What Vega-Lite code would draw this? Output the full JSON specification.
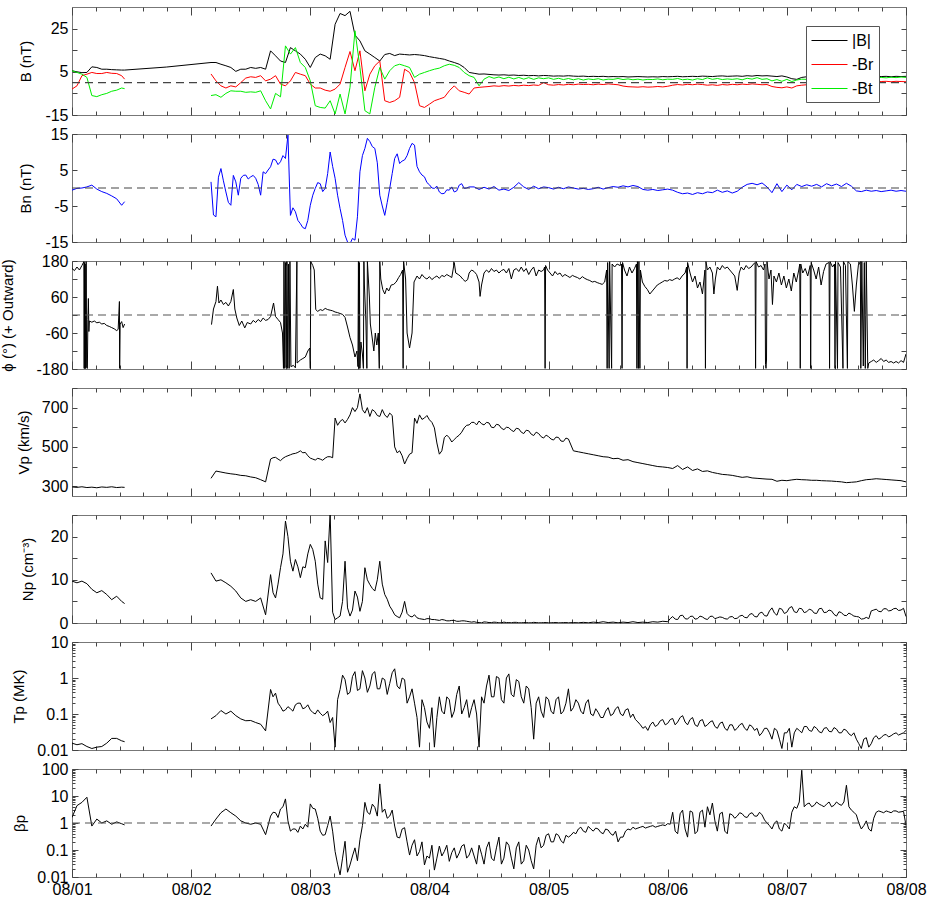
{
"$schema":"https://vega.github.io/schema/vega-lite/v6.json",
"background":"white",
"padding":{"left":0,"top":6,"right":4,"bottom":0},
"spacing":19,
"bounds":"flush",
"resolve":{"scale":{"color":"independent"},"legend":{"color":"independent"}},
"datasets":{
"main":[
{"h":0,"|B|":5.5,"-Br":-3,"-Bt":5.5,"Bn":-0.6,"V":296,"N":9.7,"T":0.0155,"b":1.6},
{"h":1,"|B|":5.0,"-Br":-1.5,"-Bt":4.7,"Bn":-0.1,"V":294,"N":9.3,"T":0.014,"b":4.4},
{"h":2,"|B|":4.6,"-Br":3.2,"-Bt":3.9,"Bn":0,"V":297,"N":9.7,"T":0.015,"b":5.8},
{"h":3,"|B|":4.7,"-Br":3.9,"-Bt":2.4,"Bn":0.3,"V":293,"N":9.1,"T":0.0125,"b":9},
{"h":4,"|B|":7.3,"-Br":4.7,"-Bt":-6,"Bn":0.8,"V":295,"N":7.8,"T":0.011,"b":0.77},
{"h":5,"|B|":7.0,"-Br":4.2,"-Bt":-6.5,"Bn":-0.3,"V":292,"N":7.0,"T":0.012,"b":1.4},
{"h":6,"|B|":6.2,"-Br":4.2,"-Bt":-5.6,"Bn":-1.0,"V":296,"N":7.5,"T":0.0125,"b":1.0},
{"h":7,"|B|":6.2,"-Br":4.7,"-Bt":-5.0,"Bn":-1.5,"V":294,"N":6.6,"T":0.0155,"b":1.2},
{"h":8,"|B|":6.0,"-Br":4.3,"-Bt":-4.0,"Bn":-2.2,"V":297,"N":5.4,"T":0.021,"b":0.9},
{"h":9,"|B|":5.9,"-Br":4.2,"-Bt":-3.5,"Bn":-3.0,"V":293,"N":6.2,"T":0.021,"b":1.1},
{"h":10,"|B|":5.8,"-Br":3.2,"-Bt":-2.5,"Bn":-4.8,"V":295,"N":5.0,"T":0.018,"b":0.94},
{"h":10.6,"|B|":5.8,"-Br":1.6,"-Bt":-2.8,"Bn":-3.8,"V":294,"N":4.5,"T":0.017,"b":0.85},
{"h":19,"|B|":7.2,"-Br":null,"-Bt":null,"Bn":null,"V":null,"N":null,"T":null,"b":null},
{"h":28,"|B|":9.3,"-Br":4,"-Bt":-6,"Bn":1.7,"V":340,"N":11.6,"T":0.073,"b":0.77},
{"h":29,"|B|":9.3,"-Br":0.8,"-Bt":-5.6,"Bn":-8,"V":377,"N":9.7,"T":0.09,"b":1.4},
{"h":30,"|B|":8.5,"-Br":-1.5,"-Bt":-6.8,"Bn":5.4,"V":372,"N":10,"T":0.125,"b":2.4},
{"h":31,"|B|":7.8,"-Br":-2.5,"-Bt":-5,"Bn":-1.1,"V":367,"N":9.3,"T":0.1,"b":3.3},
{"h":32,"|B|":7.0,"-Br":-1.5,"-Bt":-3.8,"Bn":-4.8,"V":363,"N":8.5,"T":0.12,"b":2.4},
{"h":33,"|B|":5.2,"-Br":-2,"-Bt":-4,"Bn":1.7,"V":360,"N":7.4,"T":0.09,"b":1.8},
{"h":34,"|B|":6.2,"-Br":0,"-Bt":-4,"Bn":2.7,"V":355,"N":5.8,"T":0.073,"b":1.2},
{"h":35,"|B|":6.2,"-Br":2.1,"-Bt":-4.5,"Bn":3.6,"V":353,"N":5.0,"T":0.065,"b":1.0},
{"h":36,"|B|":7.0,"-Br":2.7,"-Bt":-4.3,"Bn":3.1,"V":347,"N":5.4,"T":0.066,"b":0.9},
{"h":37,"|B|":6.6,"-Br":2.4,"-Bt":-4.5,"Bn":2.7,"V":343,"N":5.0,"T":0.058,"b":1.0},
{"h":38,"|B|":7.0,"-Br":3.2,"-Bt":-3.8,"Bn":-2,"V":333,"N":5.8,"T":0.052,"b":0.9},
{"h":39,"|B|":6.2,"-Br":0.8,"-Bt":-8.4,"Bn":4,"V":322,"N":1.9,"T":0.034,"b":0.37},
{"h":40,"|B|":14.7,"-Br":1.6,"-Bt":-12.2,"Bn":5.9,"V":438,"N":11.2,"T":0.48,"b":1.8},
{"h":41,"|B|":12.4,"-Br":3.2,"-Bt":-5,"Bn":7.8,"V":447,"N":5.8,"T":0.38,"b":2.4},
{"h":42,"|B|":10,"-Br":-0.7,"-Bt":-6.6,"Bn":7.3,"V":430,"N":12.8,"T":0.16,"b":3.3},
{"h":43,"|B|":9.3,"-Br":-1.5,"-Bt":17,"Bn":8.2,"V":450,"N":23.6,"T":0.13,"b":7.8},
{"h":44,"|B|":16.2,"-Br":0.8,"-Bt":13.2,"Bn":-7.6,"V":460,"N":14.3,"T":0.14,"b":0.5},
{"h":45,"|B|":14.7,"-Br":4.7,"-Bt":16.2,"Bn":-6.6,"V":467,"N":14.7,"T":0.18,"b":0.6},
{"h":46,"|B|":13.2,"-Br":3.9,"-Bt":9.3,"Bn":-9.9,"V":480,"N":10.5,"T":0.2,"b":0.77},
{"h":47,"|B|":10.8,"-Br":3.2,"-Bt":7,"Bn":-11.3,"V":472,"N":12.8,"T":0.15,"b":0.9},
{"h":48,"|B|":7,"-Br":-0.7,"-Bt":0.8,"Bn":-4.8,"V":443,"N":18.2,"T":0.13,"b":5.1},
{"h":49,"|B|":11.6,"-Br":-2.5,"-Bt":-10.7,"Bn":-0.1,"V":433,"N":14.3,"T":0.1,"b":3.3},
{"h":50,"|B|":13.2,"-Br":-2.5,"-Bt":-11.5,"Bn":1.2,"V":438,"N":5.8,"T":0.105,"b":0.5},
{"h":51,"|B|":12.4,"-Br":-3.5,"-Bt":-11.8,"Bn":-0.1,"V":443,"N":19,"T":0.1,"b":0.37},
{"h":52,"|B|":10.8,"-Br":-4,"-Bt":-8.4,"Bn":10,"V":450,"N":25.5,"T":0.058,"b":1.8},
{"h":53,"|B|":27,"-Br":-3,"-Bt":-14.5,"Bn":2.7,"V":647,"N":0.8,"T":0.012,"b":0.088},
{"h":54,"|B|":32,"-Br":-0.7,"-Bt":-5.3,"Bn":-5.7,"V":630,"N":1.6,"T":0.48,"b":0.012},
{"h":55,"|B|":31,"-Br":7,"-Bt":-14.5,"Bn":-13.1,"V":622,"N":14.3,"T":0.9,"b":0.21},
{"h":56,"|B|":33,"-Br":14.4,"-Bt":-2.2,"Bn":-15.5,"V":663,"N":1.6,"T":0.4,"b":0.028},
{"h":57,"|B|":22,"-Br":5.5,"-Bt":24,"Bn":-14.5,"V":680,"N":7.4,"T":1.5,"b":0.12},
{"h":58,"|B|":19.3,"-Br":14.7,"-Bt":7,"Bn":4.5,"V":770,"N":2.7,"T":0.5,"b":0.24},
{"h":59,"|B|":14.7,"-Br":-3.8,"-Bt":-13,"Bn":11,"V":672,"N":12.8,"T":1.0,"b":5.8},
{"h":60,"|B|":13.2,"-Br":3.9,"-Bt":-14.5,"Bn":12.9,"V":655,"N":8.9,"T":0.6,"b":2.1},
{"h":61,"|B|":11.6,"-Br":7.8,"-Bt":-2.2,"Bn":11,"V":680,"N":7.4,"T":1.5,"b":3.8},
{"h":62,"|B|":10,"-Br":10,"-Bt":7,"Bn":-2,"V":655,"N":14.3,"T":0.5,"b":28},
{"h":63,"|B|":13,"-Br":-8.4,"-Bt":1.6,"Bn":-7.6,"V":663,"N":6.6,"T":0.9,"b":3.3},
{"h":64,"|B|":13.5,"-Br":-9.2,"-Bt":5.5,"Bn":-0.1,"V":672,"N":3.9,"T":0.7,"b":1.8},
{"h":65,"|B|":12.5,"-Br":-8.4,"-Bt":7.8,"Bn":8.2,"V":500,"N":1.9,"T":1.8,"b":0.77},
{"h":66,"|B|":13.2,"-Br":-6.8,"-Bt":8.5,"Bn":6.8,"V":480,"N":1.2,"T":0.5,"b":0.28},
{"h":67,"|B|":13,"-Br":6.2,"-Bt":7.8,"Bn":7.8,"V":413,"N":5,"T":0.9,"b":0.67},
{"h":68,"|B|":12.8,"-Br":4.7,"-Bt":7,"Bn":11,"V":463,"N":1.6,"T":0.3,"b":0.065},
{"h":69,"|B|":13,"-Br":0,"-Bt":2.4,"Bn":11.9,"V":647,"N":1.9,"T":0.2,"b":0.24},
{"h":70,"|B|":12.8,"-Br":-10.7,"-Bt":3.9,"Bn":4.5,"V":663,"N":1.0,"T":0.012,"b":0.088},
{"h":71,"|B|":12.5,"-Br":-11.5,"-Bt":4.7,"Bn":3.1,"V":647,"N":0.8,"T":0.15,"b":0.028},
{"h":72,"|B|":12,"-Br":-10,"-Bt":5.5,"Bn":0.9,"V":638,"N":1.0,"T":0.04,"b":0.05},
{"h":73,"|B|":11.6,"-Br":-8.4,"-Bt":6.2,"Bn":-0.1,"V":597,"N":0.8,"T":0.012,"b":0.018},
{"h":74,"|B|":11.2,"-Br":-7.6,"-Bt":6.7,"Bn":-1.1,"V":463,"N":0.6,"T":0.3,"b":0.14},
{"h":75,"|B|":10.8,"-Br":-6.8,"-Bt":7.8,"Bn":-1.5,"V":547,"N":0.7,"T":0.1,"b":0.088},
{"h":76,"|B|":10,"-Br":-3.8,"-Bt":8.5,"Bn":-0.6,"V":547,"N":0.5,"T":0.25,"b":0.038},
{"h":77,"|B|":9.3,"-Br":-1.5,"-Bt":8,"Bn":-1.1,"V":538,"N":0.6,"T":0.12,"b":0.12},
{"h":78,"|B|":8.5,"-Br":-3.8,"-Bt":7,"Bn":0.8,"V":560,"N":0.4,"T":0.6,"b":0.077},
{"h":79,"|B|":7,"-Br":-4.5,"-Bt":4.7,"Bn":-0.1,"V":597,"N":0.5,"T":0.15,"b":0.16},
{"h":80,"|B|":4.7,"-Br":-5.3,"-Bt":3.2,"Bn":0.3,"V":612,"N":0.3,"T":0.08,"b":0.065},
{"h":81,"|B|":4.3,"-Br":-2.5,"-Bt":2.4,"Bn":0.3,"V":625,"N":0.3,"T":0.25,"b":0.06},
{"h":82,"|B|":3.9,"-Br":-2.2,"-Bt":-1.5,"Bn":-0.4,"V":632,"N":0.1,"T":0.012,"b":0.15},
{"h":83,"|B|":4.0,"-Br":-2.0,"-Bt":1.6,"Bn":0.2,"V":612,"N":0.25,"T":0.2,"b":0.03},
{"h":84,"|B|":3.8,"-Br":-1.8,"-Bt":2.8,"Bn":-0.3,"V":622,"N":0.1,"T":1.2,"b":0.2},
{"h":85,"|B|":3.6,"-Br":-1.5,"-Bt":2.0,"Bn":0.4,"V":598,"N":0.2,"T":0.3,"b":0.04},
{"h":86,"|B|":3.5,"-Br":-1.7,"-Bt":2.6,"Bn":-0.6,"V":612,"N":0.05,"T":1.0,"b":0.3},
{"h":87,"|B|":3.6,"-Br":-1.4,"-Bt":1.8,"Bn":-0.3,"V":588,"N":0.2,"T":0.2,"b":0.05},
{"h":88,"|B|":3.4,"-Br":-1.6,"-Bt":2.5,"Bn":-0.7,"V":598,"N":0.1,"T":1.3,"b":0.15},
{"h":89,"|B|":3.5,"-Br":-1.3,"-Bt":1.7,"Bn":0.2,"V":578,"N":0.15,"T":0.3,"b":0.02},
{"h":90,"|B|":3.3,"-Br":-1.5,"-Bt":2.4,"Bn":1.5,"V":592,"N":0.05,"T":0.8,"b":0.2},
{"h":91,"|B|":3.4,"-Br":-1.2,"-Bt":1.6,"Bn":0.3,"V":568,"N":0.1,"T":0.2,"b":0.04},
{"h":92,"|B|":3.2,"-Br":-1.4,"-Bt":2.3,"Bn":-0.4,"V":582,"N":0.05,"T":0.5,"b":0.1},
{"h":93,"|B|":3.3,"-Br":-1.1,"-Bt":1.5,"Bn":0.5,"V":558,"N":0.15,"T":0.02,"b":0.02},
{"h":94,"|B|":3.1,"-Br":-1.3,"-Bt":2.2,"Bn":-0.2,"V":568,"N":0.05,"T":0.3,"b":0.3},
{"h":95,"|B|":3.3,"-Br":0,"-Bt":1.8,"Bn":0.3,"V":545,"N":0.1,"T":0.08,"b":0.15},
{"h":96,"|B|":3.2,"-Br":-1.0,"-Bt":2.2,"Bn":0.1,"V":552,"N":0.05,"T":0.25,"b":0.4},
{"h":97,"|B|":3.0,"-Br":-1.2,"-Bt":1.5,"Bn":-0.3,"V":535,"N":0.1,"T":0.1,"b":0.2},
{"h":98,"|B|":3.1,"-Br":-0.9,"-Bt":2.0,"Bn":0.2,"V":548,"N":0.05,"T":0.3,"b":0.35},
{"h":99,"|B|":3.0,"-Br":-1.1,"-Bt":1.4,"Bn":-0.2,"V":528,"N":0.1,"T":0.12,"b":0.18},
{"h":100,"|B|":3.2,"-Br":-0.8,"-Bt":1.9,"Bn":0.3,"V":540,"N":0.05,"T":0.5,"b":0.3},
{"h":101,"|B|":3.0,"-Br":-1.0,"-Bt":1.3,"Bn":0,"V":480,"N":0.1,"T":0.15,"b":0.45},
{"h":102,"|B|":2.9,"-Br":-0.7,"-Bt":1.8,"Bn":-0.3,"V":475,"N":0.05,"T":0.2,"b":0.6},
{"h":103,"|B|":3.0,"-Br":-0.9,"-Bt":1.2,"Bn":-0.1,"V":470,"N":0.15,"T":0.1,"b":0.5},
{"h":104,"|B|":2.8,"-Br":-0.8,"-Bt":1.7,"Bn":-0.4,"V":465,"N":0.05,"T":0.25,"b":0.75},
{"h":105,"|B|":2.9,"-Br":-1.0,"-Bt":1.4,"Bn":-0.2,"V":460,"N":0.2,"T":0.09,"b":0.5},
{"h":106,"|B|":2.8,"-Br":-0.7,"-Bt":1.8,"Bn":0.2,"V":455,"N":0.1,"T":0.11,"b":0.6},
{"h":107,"|B|":2.9,"-Br":-0.9,"-Bt":1.2,"Bn":-0.3,"V":450,"N":0.3,"T":0.08,"b":0.4},
{"h":108,"|B|":2.7,"-Br":-0.6,"-Bt":1.6,"Bn":0.1,"V":448,"N":0.1,"T":0.15,"b":0.55},
{"h":109,"|B|":2.8,"-Br":-0.8,"-Bt":1.5,"Bn":0.4,"V":440,"N":0.2,"T":0.1,"b":0.35},
{"h":110,"|B|":2.7,"-Br":-1.0,"-Bt":1.9,"Bn":0.2,"V":442,"N":0.05,"T":0.16,"b":0.2},
{"h":111,"|B|":2.8,"-Br":-1.6,"-Bt":1.4,"Bn":0.6,"V":432,"N":0.2,"T":0.09,"b":0.3},
{"h":112,"|B|":2.6,"-Br":-1.9,"-Bt":1.7,"Bn":0.3,"V":435,"N":0.1,"T":0.14,"b":0.6},
{"h":113,"|B|":2.7,"-Br":-2.0,"-Bt":1.3,"Bn":0.7,"V":425,"N":0.3,"T":0.1,"b":0.7},
{"h":114,"|B|":2.8,"-Br":-2.1,"-Bt":1.6,"Bn":0.4,"V":420,"N":0.1,"T":0.06,"b":0.65},
{"h":115,"|B|":2.7,"-Br":-1.9,"-Bt":1.2,"Bn":-0.4,"V":415,"N":0.2,"T":0.04,"b":0.75},
{"h":116,"|B|":2.6,"-Br":-2.1,"-Bt":1.5,"Bn":-0.6,"V":410,"N":0.1,"T":0.035,"b":0.7},
{"h":117,"|B|":2.7,"-Br":-2.0,"-Bt":1.4,"Bn":-0.4,"V":405,"N":0.3,"T":0.06,"b":0.8},
{"h":118,"|B|":2.6,"-Br":-1.8,"-Bt":1.7,"Bn":-0.7,"V":400,"N":0.2,"T":0.05,"b":0.75},
{"h":119,"|B|":2.8,"-Br":-2.0,"-Bt":1.3,"Bn":-0.5,"V":398,"N":0.4,"T":0.07,"b":0.85},
{"h":120,"|B|":2.7,"-Br":-1.7,"-Bt":1.6,"Bn":-0.3,"V":395,"N":0.3,"T":0.055,"b":0.95},
{"h":121,"|B|":2.8,"-Br":-1.2,"-Bt":1.5,"Bn":-0.6,"V":390,"N":1.5,"T":0.075,"b":2.5},
{"h":122,"|B|":2.9,"-Br":-0.9,"-Bt":1.9,"Bn":-1.2,"V":405,"N":0.8,"T":0.06,"b":0.4},
{"h":123,"|B|":2.7,"-Br":-1.1,"-Bt":1.3,"Bn":-1.6,"V":385,"N":1.8,"T":0.09,"b":3},
{"h":124,"|B|":2.8,"-Br":-0.8,"-Bt":1.6,"Bn":-1.4,"V":398,"N":0.9,"T":0.05,"b":0.3},
{"h":125,"|B|":2.9,"-Br":-1.0,"-Bt":1.2,"Bn":-1.8,"V":380,"N":1.6,"T":0.08,"b":2.5},
{"h":126,"|B|":2.8,"-Br":-0.7,"-Bt":1.8,"Bn":-1.3,"V":388,"N":1.0,"T":0.045,"b":0.5},
{"h":127,"|B|":3.0,"-Br":-0.9,"-Bt":1.4,"Bn":-1.6,"V":375,"N":1.4,"T":0.07,"b":3},
{"h":128,"|B|":2.9,"-Br":-1.2,"-Bt":2.2,"Bn":-1.1,"V":378,"N":0.8,"T":0.05,"b":4},
{"h":129,"|B|":2.8,"-Br":-1.0,"-Bt":1.5,"Bn":-1.3,"V":370,"N":1.6,"T":0.065,"b":5.5},
{"h":130,"|B|":3.0,"-Br":-1.3,"-Bt":1.9,"Bn":-0.6,"V":365,"N":1.2,"T":0.04,"b":0.5},
{"h":131,"|B|":3.1,"-Br":-0.9,"-Bt":1.4,"Bn":-1.2,"V":360,"N":1.3,"T":0.06,"b":2.5},
{"h":132,"|B|":2.9,"-Br":-1.1,"-Bt":1.7,"Bn":-0.8,"V":358,"N":0.9,"T":0.035,"b":0.4},
{"h":133,"|B|":3.0,"-Br":-0.8,"-Bt":1.5,"Bn":-1.4,"V":355,"N":1.5,"T":0.05,"b":2},
{"h":134,"|B|":3.1,"-Br":-1.0,"-Bt":1.8,"Bn":-0.9,"V":350,"N":1.1,"T":0.04,"b":1.8},
{"h":135,"|B|":2.9,"-Br":-0.7,"-Bt":1.3,"Bn":0.2,"V":345,"N":1.8,"T":0.055,"b":2.2},
{"h":136,"|B|":3.2,"-Br":-0.9,"-Bt":2.0,"Bn":1.0,"V":348,"N":1.2,"T":0.035,"b":1.6},
{"h":137,"|B|":3.0,"-Br":-0.6,"-Bt":1.6,"Bn":1.3,"V":342,"N":2.2,"T":0.045,"b":2.4},
{"h":138,"|B|":3.3,"-Br":-0.8,"-Bt":2.3,"Bn":0.9,"V":340,"N":1.4,"T":0.04,"b":1.8},
{"h":139,"|B|":3.1,"-Br":-1.0,"-Bt":1.5,"Bn":1.4,"V":338,"N":2.5,"T":0.03,"b":2},
{"h":140,"|B|":3.2,"-Br":-0.9,"-Bt":1.8,"Bn":0.3,"V":336,"N":1.6,"T":0.04,"b":1},
{"h":141,"|B|":3.0,"-Br":-1.8,"-Bt":0.8,"Bn":-1.3,"V":335,"N":3.5,"T":0.02,"b":0.6},
{"h":142,"|B|":2.8,"-Br":-2.2,"-Bt":1.4,"Bn":1.2,"V":325,"N":1.8,"T":0.035,"b":1.2},
{"h":143,"|B|":3.1,"-Br":-2.4,"-Bt":0.6,"Bn":-1.0,"V":330,"N":3.2,"T":0.011,"b":0.5},
{"h":144,"|B|":2.6,"-Br":-2.0,"-Bt":1.5,"Bn":0.8,"V":328,"N":2.5,"T":0.03,"b":0.8},
{"h":145,"|B|":1.8,"-Br":-2.5,"-Bt":0.5,"Bn":-0.5,"V":332,"N":3.8,"T":0.012,"b":2.5},
{"h":146,"|B|":1.5,"-Br":-1.5,"-Bt":1.2,"Bn":1.0,"V":335,"N":2.4,"T":0.04,"b":3.5},
{"h":147,"|B|":2.4,"-Br":-1.2,"-Bt":1.6,"Bn":0.4,"V":333,"N":3.3,"T":0.03,"b":90},
{"h":148,"|B|":2.7,"-Br":-1.0,"-Bt":1.5,"Bn":0.9,"V":332,"N":2.6,"T":0.045,"b":5},
{"h":149,"|B|":2.8,"-Br":-0.8,"-Bt":1.7,"Bn":0.5,"V":330,"N":3.0,"T":0.033,"b":4},
{"h":150,"|B|":2.7,"-Br":-1.0,"-Bt":1.4,"Bn":1.0,"V":330,"N":2.2,"T":0.04,"b":6},
{"h":151,"|B|":2.8,"-Br":-0.7,"-Bt":1.6,"Bn":0.3,"V":328,"N":3.4,"T":0.03,"b":4.5},
{"h":152,"|B|":2.6,"-Br":-0.9,"-Bt":1.5,"Bn":1.2,"V":327,"N":2.5,"T":0.042,"b":5},
{"h":153,"|B|":2.7,"-Br":-0.8,"-Bt":1.7,"Bn":0.6,"V":326,"N":2.8,"T":0.032,"b":4},
{"h":154,"|B|":2.8,"-Br":-1.0,"-Bt":1.4,"Bn":1.1,"V":324,"N":1.6,"T":0.038,"b":6},
{"h":155,"|B|":2.7,"-Br":-0.7,"-Bt":1.6,"Bn":0.4,"V":322,"N":2.4,"T":0.03,"b":4.5},
{"h":156,"|B|":2.6,"-Br":-0.9,"-Bt":1.5,"Bn":1.3,"V":318,"N":1.7,"T":0.035,"b":25},
{"h":157,"|B|":2.7,"-Br":-0.8,"-Bt":1.7,"Bn":0.5,"V":320,"N":2.0,"T":0.025,"b":3},
{"h":158,"|B|":2.8,"-Br":-1.0,"-Bt":1.4,"Bn":-0.8,"V":322,"N":1.5,"T":0.02,"b":2},
{"h":159,"|B|":2.7,"-Br":-0.6,"-Bt":1.6,"Bn":-1.0,"V":328,"N":0.9,"T":0.011,"b":0.6},
{"h":160,"|B|":2.8,"-Br":-0.4,"-Bt":1.8,"Bn":-0.6,"V":333,"N":1.3,"T":0.022,"b":1.2},
{"h":161,"|B|":2.7,"-Br":0,"-Bt":2.0,"Bn":-0.9,"V":335,"N":2.8,"T":0.015,"b":0.5},
{"h":162,"|B|":2.8,"-Br":0.3,"-Bt":2.2,"Bn":-0.7,"V":338,"N":3.2,"T":0.025,"b":2.5},
{"h":163,"|B|":2.8,"-Br":0.5,"-Bt":2.4,"Bn":-1.0,"V":336,"N":2.6,"T":0.022,"b":2.6},
{"h":164,"|B|":2.9,"-Br":0.6,"-Bt":2.2,"Bn":-0.8,"V":334,"N":3.3,"T":0.027,"b":2.8},
{"h":165,"|B|":2.7,"-Br":0.4,"-Bt":2.5,"Bn":-0.6,"V":332,"N":2.9,"T":0.025,"b":2.4},
{"h":166,"|B|":2.9,"-Br":0.6,"-Bt":2.3,"Bn":-0.9,"V":330,"N":3.4,"T":0.03,"b":2.8},
{"h":167,"|B|":2.8,"-Br":0.5,"-Bt":2.6,"Bn":-0.7,"V":328,"N":3.0,"T":0.028,"b":2.6},
{"h":168,"|B|":2.9,"-Br":0.4,"-Bt":2.4,"Bn":-0.9,"V":322,"N":1.5,"T":0.035,"b":0.8},
{"h":28.5,"Bn":-7.5},{"h":29.5,"Bn":3},{"h":30.5,"Bn":2},{"h":31.5,"Bn":-4},{"h":32.5,"Bn":3.5},{"h":33.5,"Bn":-2},{"h":34.5,"Bn":3.5},{"h":35.5,"Bn":2.5},{"h":36.5,"Bn":3.5},{"h":37.5,"Bn":1},{"h":38.5,"Bn":4.5},{"h":39.5,"Bn":5},
{"h":40.5,"Bn":8,"V":445,"N":7,"T":0.3,"b":2.5},
{"h":41.5,"Bn":6.5,"V":438,"N":9,"T":0.2,"b":1.6},
{"h":42.5,"Bn":9,"V":442,"N":16,"T":0.12,"b":4},
{"h":43.5,"Bn":14.7,"V":455,"N":20,"T":0.16,"b":1.2},
{"h":44.5,"Bn":-5.5,"V":465,"N":12,"T":0.12,"b":0.6},
{"h":45.5,"Bn":-9,"V":472,"N":13,"T":0.2,"b":0.45},
{"h":46.5,"Bn":-11,"V":470,"N":13,"T":0.14,"b":0.6},
{"h":47.5,"Bn":-9,"V":455,"N":16,"T":0.18,"b":0.7},
{"h":48.5,"Bn":-2,"V":438,"N":17,"T":0.11,"b":3.5},
{"h":49.5,"Bn":1.5,"V":442,"N":9,"T":0.13,"b":1.5},
{"h":50.5,"Bn":-1,"V":432,"N":5.5,"T":0.09,"b":0.35},
{"h":51.5,"Bn":4,"V":450,"N":14,"T":0.12,"b":0.8},
{"h":52.5,"Bn":6,"V":445,"N":2.5,"T":0.08,"b":0.5},
{"h":53.5,"Bn":-2,"V":610,"N":1.2,"T":0.25,"b":0.03},
{"h":54.5,"Bn":-9,"V":640,"N":5,"T":1.2,"b":0.05},
{"h":55.5,"Bn":-15,"V":640,"N":3.5,"T":0.35,"b":0.015},
{"h":56.5,"Bn":-14,"V":700,"N":3,"T":1.1,"b":0.06},
{"h":57.5,"Bn":-8,"V":700,"N":6,"T":0.45,"b":0.04},
{"h":58.5,"Bn":9,"V":690,"N":5,"T":1.6,"b":0.8},
{"h":59.5,"Bn":13.8,"V":700,"N":10,"T":0.4,"b":2.5},
{"h":60.5,"Bn":11.5,"V":690,"N":8,"T":1.3,"b":5},
{"h":61.5,"Bn":7,"V":660,"N":10,"T":0.5,"b":1.8},
{"h":62.5,"Bn":-5,"V":690,"N":9,"T":1.0,"b":2.5},
{"h":63.5,"Bn":-4,"V":650,"N":5.5,"T":0.35,"b":1.5},
{"h":64.5,"Bn":4,"V":660,"N":3,"T":1.4,"b":3},
{"h":65.5,"Bn":9.5,"V":470,"N":1.5,"T":0.6,"b":0.3},
{"h":66.5,"Bn":7.5,"V":455,"N":2.5,"T":1.0,"b":0.6},
{"h":67.5,"Bn":9,"V":440,"N":2.2,"T":0.2,"b":0.2},
{"h":68.5,"Bn":12.4,"V":470,"N":1.4,"T":0.5,"b":0.15},
{"h":69.5,"Bn":6,"V":620,"N":1.2,"T":0.08,"b":0.06},
{"h":70.5,"Bn":3.6,"V":640,"N":0.9,"T":0.25,"b":0.2},
{"h":71.5,"Bn":1.5,"V":660,"N":1.0,"T":0.06,"b":0.06},
{"h":72.5,"Bn":0,"V":625,"N":0.8,"T":0.15,"b":0.15},
{"h":73.5,"Bn":0.5,"V":520,"N":0.7,"T":0.08,"b":0.05},
{"h":74.5,"Bn":-1.6,"V":480,"N":0.8,"T":0.12,"b":0.06},
{"h":75.5,"Bn":-0.5,"V":560,"N":0.5,"T":0.3,"b":0.15},
{"h":76.5,"Bn":0.3,"V":525,"N":0.6,"T":0.08,"b":0.08},
{"h":77.5,"Bn":-0.8,"V":550,"N":0.4,"T":0.35,"b":0.05},
{"h":78.5,"Bn":1.2,"V":575,"N":0.5,"T":0.1,"b":0.14},
{"h":79.5,"Bn":0,"V":610,"N":0.4,"T":0.25,"b":0.05},
{"h":80.5,"V":625,"N":0.2,"T":0.15,"b":0.12},
{"h":81.5,"V":612,"N":0.15,"T":0.1,"b":0.03},
{"h":82.5,"V":618,"N":0.05,"T":0.3,"b":0.07},
{"h":83.5,"V":625,"N":0.2,"T":0.6,"b":0.12},
{"h":84.5,"V":600,"N":0.1,"T":0.3,"b":0.05},
{"h":85.5,"V":615,"N":0.15,"T":1.1,"b":0.12},
{"h":86.5,"V":595,"N":0.05,"T":0.25,"b":0.03},
{"h":87.5,"V":600,"N":0.1,"T":1.0,"b":0.2},
{"h":88.5,"V":585,"N":0.05,"T":0.35,"b":0.05},
{"h":89.5,"V":595,"N":0.15,"T":0.9,"b":0.12},
{"h":90.5,"V":575,"N":0.05,"T":0.3,"b":0.03},
{"h":91.5,"V":585,"N":0.1,"T":0.6,"b":0.15},
{"h":92.5,"V":565,"N":0.05,"T":0.15,"b":0.04},
{"h":93.5,"V":575,"N":0.1,"T":0.2,"b":0.15},
{"h":94.5,"V":552,"N":0.05,"T":0.12,"b":0.12},
{"h":95.5,"V":560,"N":0.1,"T":0.3,"b":0.35},
{"h":96.5,"V":540,"N":0.05,"T":0.12,"b":0.2},
{"h":97.5,"V":550,"N":0.1,"T":0.25,"b":0.4},
{"h":98.5,"V":530,"N":0.05,"T":0.1,"b":0.22},
{"h":99.5,"V":545,"N":0.1,"T":0.2,"b":0.35},
{"h":100.5,"T":0.12,"b":0.35},{"h":101.5,"T":0.25,"b":0.4},{"h":102.5,"T":0.12,"b":0.7},{"h":103.5,"T":0.2,"b":0.45},{"h":104.5,"T":0.1,"b":0.6},{"h":105.5,"T":0.14,"b":0.65},{"h":106.5,"T":0.08,"b":0.45},{"h":107.5,"T":0.12,"b":0.6},{"h":108.5,"T":0.09,"b":0.4},{"h":109.5,"T":0.14,"b":0.5},{"h":110.5,"T":0.1,"b":0.3},{"h":111.5,"T":0.13,"b":0.5},{"h":112.5,"T":0.08,"b":0.55},{"h":113.5,"T":0.07,"b":0.6},{"h":114.5,"T":0.05,"b":0.7},{"h":115.5,"T":0.045,"b":0.65},{"h":116.5,"T":0.05,"b":0.75},{"h":117.5,"T":0.045,"b":0.7},{"h":118.5,"T":0.065,"b":0.8},{"h":119.5,"T":0.05,"b":0.8},
{"h":120.5,"N":1.0,"T":0.07,"b":0.9},{"h":121.5,"N":0.9,"T":0.05,"b":0.5},{"h":122.5,"N":1.7,"T":0.08,"b":2.2},{"h":123.5,"N":1.0,"T":0.06,"b":0.6},{"h":124.5,"N":1.5,"T":0.07,"b":2.8},{"h":125.5,"N":0.9,"T":0.05,"b":0.4},{"h":126.5,"N":1.6,"T":0.065,"b":2.5},{"h":127.5,"N":1.0,"T":0.045,"b":0.7},{"h":128.5,"N":1.5,"T":0.06,"b":2},{"h":129.5,"N":1.0,"T":0.045,"b":1.2},{"h":130.5,"N":1.4,"T":0.055,"b":2.2},{"h":131.5,"N":1.0,"T":0.04,"b":0.5},{"h":132.5,"N":1.4,"T":0.05,"b":2.2},{"h":133.5,"N":1.0,"T":0.035,"b":1.5},{"h":134.5,"N":1.6,"T":0.05,"b":2.4},{"h":135.5,"N":1.3,"T":0.04,"b":1.7},{"h":136.5,"N":2.0,"T":0.05,"b":2.2},{"h":137.5,"N":1.5,"T":0.035,"b":1.8},{"h":138.5,"N":2.3,"T":0.025,"b":2.5},{"h":139.5,"N":1.7,"T":0.04,"b":1.3},
{"h":140.5,"N":2.8,"T":0.03,"b":0.8},{"h":141.5,"N":2.3,"T":0.04,"b":1.0},{"h":142.5,"N":3.4,"T":0.02,"b":0.6},{"h":143.5,"N":2.2,"T":0.03,"b":1.0},{"h":144.5,"N":3.5,"T":0.04,"b":0.6},{"h":145.5,"N":2.6,"T":0.03,"b":4},{"h":146.5,"N":3.4,"T":0.035,"b":6},{"h":147.5,"N":2.4,"T":0.045,"b":4},{"h":148.5,"N":3.2,"T":0.035,"b":5.5},{"h":149.5,"N":2.3,"T":0.045,"b":4.5},{"h":150.5,"N":3.3,"T":0.032,"b":5},{"h":151.5,"N":2.4,"T":0.04,"b":4},{"h":152.5,"N":3.0,"T":0.033,"b":6},{"h":153.5,"N":2.0,"T":0.042,"b":4.5},{"h":154.5,"N":2.6,"T":0.03,"b":5},{"h":155.5,"N":1.8,"T":0.038,"b":6},{"h":156.5,"N":2.3,"T":0.028,"b":4},{"h":157.5,"N":1.6,"T":0.03,"b":2.5},{"h":158.5,"N":1.4,"T":0.015,"b":1},{"h":159.5,"N":1.0,"T":0.02,"b":0.8},
{"h":160.5,"N":1.0,"T":0.012,"b":0.6},{"h":161.5,"N":3.0,"T":0.022,"b":1.5},{"h":162.5,"N":2.7,"T":0.02,"b":2.8},{"h":163.5,"N":3.3,"T":0.026,"b":2.4},{"h":164.5,"N":2.8,"T":0.023,"b":2.6},{"h":165.5,"N":3.3,"T":0.028,"b":2.8},{"h":166.5,"N":2.9,"T":0.026,"b":2.5},{"h":167.5,"N":3.4,"T":0.03,"b":2.7}
],
"phi":[
{"h":0,"v":155},{"h":0.5,"v":148},{"h":1,"v":160},{"h":1.5,"v":150},{"h":2,"v":165},{"h":2.4,"v":178},{"h":2.45,"v":-178},{"h":2.5,"v":175},{"h":2.6,"v":-179},{"h":2.65,"v":170},{"h":2.75,"v":-178},{"h":2.85,"v":178},{"h":2.95,"v":-175},{"h":3.1,"v":-178},{"h":3.2,"v":-15},{"h":3.3,"v":55},{"h":3.4,"v":-55},{"h":3.5,"v":-20},{"h":4,"v":-24},{"h":4.5,"v":-20},{"h":5,"v":-26},{"h":5.5,"v":-24},{"h":6,"v":-30},{"h":6.5,"v":-28},{"h":7,"v":-35},{"h":7.5,"v":-38},{"h":8,"v":-42},{"h":8.5,"v":-46},{"h":9,"v":-52},{"h":9.3,"v":-48},{"h":9.55,"v":45},{"h":9.6,"v":-178},{"h":9.7,"v":-30},{"h":10,"v":-22},{"h":10.3,"v":-42},{"h":10.6,"v":-30},
{"h":19,"v":null},
{"h":28.1,"v":-32},{"h":28.5,"v":20},{"h":29,"v":45},{"h":29.3,"v":96},{"h":29.6,"v":40},{"h":30,"v":50},{"h":30.5,"v":35},{"h":31,"v":42},{"h":31.5,"v":30},{"h":32,"v":45},{"h":32.5,"v":85},{"h":32.8,"v":20},{"h":33.2,"v":-10},{"h":33.7,"v":-35},{"h":34.2,"v":-20},{"h":34.8,"v":-43},{"h":35.3,"v":-25},{"h":36,"v":-30},{"h":36.5,"v":-18},{"h":37,"v":-25},{"h":37.5,"v":-15},{"h":38,"v":-22},{"h":38.5,"v":-10},{"h":39,"v":-18},{"h":39.5,"v":-15},{"h":40,"v":-5},{"h":40.6,"v":40},{"h":41,"v":-5},{"h":41.5,"v":-15},{"h":42,"v":-25},{"h":42.4,"v":-60},{"h":42.6,"v":-178},{"h":42.7,"v":178},{"h":42.85,"v":-178},{"h":43,"v":175},{"h":43.15,"v":-175},{"h":43.3,"v":178},{"h":43.45,"v":-178},{"h":43.6,"v":170},{"h":43.75,"v":-178},{"h":43.9,"v":178},{"h":44.1,"v":-172},{"h":44.6,"v":-168},{"h":45.0,"v":-176},{"h":45.3,"v":178},{"h":45.35,"v":-160},{"h":46,"v":-150},{"h":46.5,"v":-145},{"h":47,"v":-140},{"h":47.5,"v":-120},{"h":47.9,"v":-110},{"h":48.0,"v":-178},{"h":48.1,"v":178},{"h":48.5,"v":165},{"h":48.8,"v":150},{"h":49.1,"v":18},{"h":49.5,"v":12},{"h":50,"v":18},{"h":50.5,"v":15},{"h":51,"v":22},{"h":51.5,"v":18},{"h":52,"v":16},{"h":52.5,"v":14},{"h":53,"v":10},{"h":53.5,"v":8},{"h":54,"v":5},{"h":54.5,"v":2},{"h":55,"v":-8},{"h":55.5,"v":-40},{"h":56,"v":-75},{"h":56.5,"v":-100},{"h":57,"v":-140},{"h":57.4,"v":-120},{"h":57.6,"v":-172},{"h":57.7,"v":178},{"h":57.8,"v":-178},{"h":57.9,"v":175},{"h":58,"v":-178},{"h":58.2,"v":-90},{"h":58.5,"v":-130},{"h":58.7,"v":-178},{"h":58.8,"v":178},{"h":58.9,"v":100},{"h":59.2,"v":-20},{"h":59.4,"v":-178},{"h":59.5,"v":178},{"h":59.7,"v":120},{"h":59.9,"v":60},{"h":60.1,"v":-30},{"h":60.5,"v":-80},{"h":60.8,"v":-120},{"h":61.1,"v":-60},{"h":61.4,"v":-100},{"h":61.7,"v":-60},{"h":61.9,"v":-178},{"h":62,"v":178},{"h":62.2,"v":120},{"h":62.6,"v":85},{"h":63,"v":70},{"h":63.4,"v":90},{"h":63.8,"v":80},{"h":64.3,"v":100},{"h":64.8,"v":102},{"h":65.3,"v":110},{"h":65.8,"v":125},{"h":66.2,"v":135},{"h":66.6,"v":150},{"h":66.7,"v":-178},{"h":66.8,"v":178},{"h":67.2,"v":120},{"h":67.5,"v":-60},{"h":68,"v":-110},{"h":68.5,"v":-60},{"h":68.9,"v":110},{"h":69.5,"v":130},{"h":70,"v":120},{"h":70.5,"v":135},{"h":71,"v":125},{"h":71.5,"v":120},{"h":72,"v":128},{"h":72.5,"v":118},{"h":73,"v":125},{"h":73.5,"v":130},{"h":74,"v":122},{"h":74.5,"v":132},{"h":75,"v":128},{"h":75.5,"v":135},{"h":76,"v":130},{"h":76.5,"v":125},{"h":77,"v":175},{"h":77.3,"v":140},{"h":77.8,"v":135},{"h":78.2,"v":130},{"h":78.7,"v":120},{"h":79.2,"v":112},{"h":79.7,"v":118},{"h":80,"v":140},
{"h":80.5,"v":150},{"h":81,"v":145},{"h":81.5,"v":135},{"h":82,"v":110},{"h":82.2,"v":62},{"h":82.5,"v":100},{"h":83,"v":140},{"h":83.5,"v":150},{"h":84,"v":142},{"h":84.5,"v":155},{"h":85,"v":145},{"h":85.5,"v":150},{"h":86,"v":140},{"h":86.5,"v":148},{"h":87,"v":152},{"h":87.5,"v":140},{"h":88,"v":155},{"h":88.5,"v":120},{"h":89,"v":150},{"h":89.5,"v":155},{"h":90,"v":145},{"h":90.5,"v":160},{"h":91,"v":145},{"h":91.5,"v":155},{"h":92,"v":135},{"h":92.5,"v":150},{"h":93,"v":160},{"h":93.5,"v":130},{"h":94,"v":150},{"h":94.5,"v":145},{"h":95,"v":150},{"h":95.2,"v":160},{"h":95.3,"v":-178},{"h":95.4,"v":165},{"h":95.8,"v":150},{"h":96.3,"v":140},{"h":96.8,"v":130},{"h":97.3,"v":145},{"h":97.8,"v":135},{"h":98.3,"v":140},{"h":98.8,"v":128},{"h":99.3,"v":135},{"h":99.8,"v":130},{"h":100.3,"v":125},{"h":100.8,"v":132},{"h":101.3,"v":128},{"h":101.8,"v":125},{"h":102.3,"v":120},{"h":102.8,"v":128},{"h":103.3,"v":122},{"h":103.8,"v":118},{"h":104.3,"v":115},{"h":104.8,"v":110},{"h":105.3,"v":112},{"h":105.8,"v":108},{"h":106.3,"v":105},{"h":106.8,"v":102},{"h":107.3,"v":110},{"h":107.7,"v":150},{"h":107.8,"v":-178},{"h":107.9,"v":175},{"h":108.2,"v":-178},{"h":108.3,"v":178},{"h":108.7,"v":-178},{"h":108.8,"v":170},{"h":109.3,"v":160},{"h":109.8,"v":170},{"h":110.4,"v":165},{"h":110.7,"v":170},{"h":110.8,"v":-178},{"h":110.9,"v":175},{"h":111.3,"v":150},{"h":111.8,"v":130},{"h":112.3,"v":160},{"h":112.8,"v":140},{"h":113.3,"v":155},{"h":113.7,"v":170},{"h":113.8,"v":-178},{"h":113.9,"v":178},{"h":114.1,"v":-178},{"h":114.2,"v":178},{"h":114.4,"v":-178},{"h":114.5,"v":150},{"h":114.9,"v":110},{"h":115.4,"v":95},{"h":115.9,"v":85},{"h":116.4,"v":70},{"h":116.9,"v":80},{"h":117.4,"v":90},{"h":117.9,"v":100},{"h":118.4,"v":105},{"h":118.9,"v":110},{"h":119.4,"v":115},{"h":119.9,"v":113},{"h":120.4,"v":118},{"h":120.9,"v":115},{"h":121.4,"v":120},{"h":121.9,"v":124},{"h":122.4,"v":118},{"h":122.9,"v":130},{"h":123.5,"v":140},{"h":123.8,"v":160},{"h":123.9,"v":-178},{"h":124,"v":175},{"h":124.5,"v":140},{"h":125,"v":110},{"h":125.5,"v":130},{"h":126,"v":90},{"h":126.5,"v":110},{"h":127,"v":70},{"h":127.5,"v":150},{"h":127.6,"v":-178},{"h":127.7,"v":178},{"h":128,"v":150},{"h":128.5,"v":160},{"h":129,"v":140},{"h":129.3,"v":70},{"h":129.6,"v":120},{"h":130,"v":160},{"h":130.5,"v":150},{"h":131,"v":165},{"h":131.5,"v":155},{"h":132,"v":160},{"h":132.5,"v":150},{"h":133,"v":140},{"h":133.5,"v":130},{"h":134,"v":82},{"h":134.4,"v":140},{"h":134.8,"v":160},{"h":135.3,"v":150},{"h":135.8,"v":165},{"h":136.3,"v":155},{"h":136.8,"v":160},{"h":137.3,"v":170},{"h":137.6,"v":175},{"h":137.7,"v":-178},{"h":137.8,"v":178},{"h":138.3,"v":160},{"h":138.8,"v":165},{"h":139.3,"v":150},{"h":139.6,"v":170},{"h":139.7,"v":-165},{"h":139.8,"v":-178},{"h":139.9,"v":-150},{"h":140,"v":178},{"h":140.4,"v":120},{"h":140.8,"v":150},{"h":141.1,"v":35},{"h":141.4,"v":130},{"h":141.9,"v":110},{"h":142.4,"v":140},{"h":142.9,"v":100},{"h":143.4,"v":130},{"h":143.9,"v":90},{"h":144.4,"v":120},{"h":144.9,"v":80},{"h":145.4,"v":140},{"h":145.9,"v":110},{"h":146.4,"v":150},{"h":146.6,"v":170},{"h":146.7,"v":-178},{"h":146.8,"v":170},{"h":147.2,"v":140},{"h":147.7,"v":155},{"h":148.2,"v":130},{"h":148.7,"v":165},{"h":148.8,"v":-178},{"h":148.9,"v":175},{"h":149.4,"v":150},{"h":149.9,"v":120},{"h":150.4,"v":160},{"h":150.9,"v":100},{"h":151.4,"v":145},{"h":151.9,"v":170},{"h":152.5,"v":175},{"h":152.6,"v":-178},{"h":152.7,"v":178},{"h":153.2,"v":160},{"h":153.6,"v":170},{"h":153.7,"v":-178},{"h":153.8,"v":178},{"h":154.2,"v":-178},{"h":154.3,"v":175},{"h":154.8,"v":160},{"h":155.3,"v":-178},{"h":155.4,"v":178},{"h":155.8,"v":165},{"h":156.2,"v":-178},{"h":156.3,"v":178},{"h":156.8,"v":170},{"h":157.2,"v":100},{"h":157.6,"v":12},{"h":158,"v":100},{"h":158.4,"v":165},{"h":158.8,"v":178},{"h":158.9,"v":-178},{"h":159.1,"v":178},{"h":159.4,"v":-170},{"h":159.6,"v":175},{"h":159.8,"v":-178},{"h":160,"v":178},{"h":160.3,"v":-178},{"h":160.5,"v":-160},{"h":161,"v":-155},{"h":161.5,"v":-150},{"h":162,"v":-158},{"h":162.5,"v":-152},{"h":163,"v":-145},{"h":163.5,"v":-155},{"h":164,"v":-150},{"h":164.5,"v":-158},{"h":165,"v":-155},{"h":165.5,"v":-160},{"h":166,"v":-155},{"h":166.5,"v":-160},{"h":167,"v":-152},{"h":167.5,"v":-158},{"h":168,"v":-130}
]
},
"vconcat":[
{"width":834,"height":108,
"layer":[
{"data":{"name":"main"},"transform":[{"fold":["|B|","-Br","-Bt"]},{"filter":"isDefined(datum.value)"}],
"mark":{"type":"line","strokeWidth":1,"clip":true},
"encoding":{
"x":{"field":"h","type":"quantitative","scale":{"domain":[0,168],"nice":false,"zero":false},"axis":{"orient":"bottom","values":[0,4.8,9.6,14.4,19.2,24,28.8,33.6,38.4,43.2,48,52.8,57.6,62.4,67.2,72,76.8,81.6,86.4,91.2,96,100.8,105.6,110.4,115.2,120,124.8,129.6,134.4,139.2,144,148.8,153.6,158.4,163.2,168],"labels":false,"title":null,"tickSize":{"condition":{"test":"datum.value % 24 == 0","value":-8},"value":-4}}},
"y":{"field":"value","type":"quantitative","scale":{"domain":[-15,35],"nice":false,"zero":false},"axis":{"orient":"left","values":[-15,-5,5,15,25],"labelExpr":"datum.value == -5 || datum.value == 15 ? '' : '' + datum.value","tickSize":-5,"labelPadding":9,"title":"B (nT)","titlePadding":11}},
"color":{"field":"key","type":"nominal","scale":{"domain":["|B|","-Br","-Bt"],"range":["#000000","#ff0000","#00ee00"]},"legend":{"orient":"none","legendX":734,"legendY":19,"title":null,"symbolType":"M-1,0L3,0","symbolSize":324,"symbolStrokeWidth":1,"labelFontSize":16,"labelFont":"Liberation Sans","fillColor":"white","strokeColor":"#555","padding":5,"rowPadding":6,"labelOffset":22}}
}},
{"data":{"values":[{}]},"mark":{"type":"rule","strokeDash":[8,5],"color":"#444","strokeWidth":1.2},
"encoding":{"x":{"datum":0,"type":"quantitative","axis":{"orient":"top","values":[0,4.8,9.6,14.4,19.2,24,28.8,33.6,38.4,43.2,48,52.8,57.6,62.4,67.2,72,76.8,81.6,86.4,91.2,96,100.8,105.6,110.4,115.2,120,124.8,129.6,134.4,139.2,144,148.8,153.6,158.4,163.2,168],"labels":false,"title":null,"tickSize":{"condition":{"test":"datum.value % 24 == 0","value":-8},"value":-4}}},"x2":{"datum":168},
"y":{"datum":0,"type":"quantitative","axis":{"orient":"right","values":[-15,-5,5,15,25],"labels":false,"title":null,"tickSize":-5}}}}
],
"resolve":{"axis":{"x":"independent","y":"independent"}}
},
{"width":834,"height":108,
"layer":[
{"data":{"name":"main"},"transform":[{"filter":"isDefined(datum.Bn)"}],
"mark":{"type":"line","strokeWidth":1,"clip":true,"color":"#0000ff"},
"encoding":{
"x":{"field":"h","type":"quantitative","scale":{"domain":[0,168],"nice":false,"zero":false},"axis":{"orient":"bottom","values":[0,4.8,9.6,14.4,19.2,24,28.8,33.6,38.4,43.2,48,52.8,57.6,62.4,67.2,72,76.8,81.6,86.4,91.2,96,100.8,105.6,110.4,115.2,120,124.8,129.6,134.4,139.2,144,148.8,153.6,158.4,163.2,168],"labels":false,"title":null,"tickSize":{"condition":{"test":"datum.value % 24 == 0","value":-8},"value":-4}}},
"y":{"field":"Bn","type":"quantitative","scale":{"domain":[-15,15],"nice":false,"zero":false},"axis":{"orient":"left","values":[-15,-5,5,15],"labelExpr":"'' + datum.value","tickSize":-5,"labelPadding":9,"title":"Bn (nT)","titlePadding":11}}
}},
{"data":{"values":[{}]},"mark":{"type":"rule","strokeDash":[8,5],"color":"#444","strokeWidth":1.2},
"encoding":{"x":{"datum":0,"type":"quantitative","axis":{"orient":"top","values":[0,4.8,9.6,14.4,19.2,24,28.8,33.6,38.4,43.2,48,52.8,57.6,62.4,67.2,72,76.8,81.6,86.4,91.2,96,100.8,105.6,110.4,115.2,120,124.8,129.6,134.4,139.2,144,148.8,153.6,158.4,163.2,168],"labels":false,"title":null,"tickSize":{"condition":{"test":"datum.value % 24 == 0","value":-8},"value":-4}}},"x2":{"datum":168},
"y":{"datum":0,"type":"quantitative","axis":{"orient":"right","values":[-15,-5,5,15],"labels":false,"title":null,"tickSize":-5}}}}
],
"resolve":{"axis":{"x":"independent","y":"independent"}}
},
{"width":834,"height":108,
"layer":[
{"data":{"name":"phi"},
"mark":{"type":"line","strokeWidth":1,"clip":true,"color":"#000000"},
"encoding":{
"x":{"field":"h","type":"quantitative","scale":{"domain":[0,168],"nice":false,"zero":false},"axis":{"orient":"bottom","values":[0,4.8,9.6,14.4,19.2,24,28.8,33.6,38.4,43.2,48,52.8,57.6,62.4,67.2,72,76.8,81.6,86.4,91.2,96,100.8,105.6,110.4,115.2,120,124.8,129.6,134.4,139.2,144,148.8,153.6,158.4,163.2,168],"labels":false,"title":null,"tickSize":{"condition":{"test":"datum.value % 24 == 0","value":-8},"value":-4}}},
"y":{"field":"v","type":"quantitative","scale":{"domain":[-180,180],"nice":false,"zero":false},"axis":{"orient":"left","values":[-180,-120,-60,0,60,120,180],"labelExpr":"abs(datum.value) == 120 || datum.value == 0 ? '' : '' + datum.value","tickSize":-5,"labelPadding":9,"title":"ϕ (°) (+ Outward)","titlePadding":20}}
}},
{"data":{"values":[{}]},"mark":{"type":"rule","strokeDash":[8,5],"color":"#555","strokeWidth":1.1},
"encoding":{"x":{"datum":0,"type":"quantitative","axis":{"orient":"top","values":[0,4.8,9.6,14.4,19.2,24,28.8,33.6,38.4,43.2,48,52.8,57.6,62.4,67.2,72,76.8,81.6,86.4,91.2,96,100.8,105.6,110.4,115.2,120,124.8,129.6,134.4,139.2,144,148.8,153.6,158.4,163.2,168],"labels":false,"title":null,"tickSize":{"condition":{"test":"datum.value % 24 == 0","value":-8},"value":-4}}},"x2":{"datum":168},
"y":{"datum":0,"type":"quantitative","axis":{"orient":"right","values":[-180,-120,-60,0,60,120,180],"labels":false,"title":null,"tickSize":-5}}}}
],
"resolve":{"axis":{"x":"independent","y":"independent"}}
},
{"width":834,"height":108,
"layer":[
{"data":{"name":"main"},"transform":[{"filter":"isDefined(datum.V)"}],
"mark":{"type":"line","strokeWidth":1,"clip":true,"color":"#000000"},
"encoding":{
"x":{"field":"h","type":"quantitative","scale":{"domain":[0,168],"nice":false,"zero":false},"axis":{"orient":"bottom","values":[0,4.8,9.6,14.4,19.2,24,28.8,33.6,38.4,43.2,48,52.8,57.6,62.4,67.2,72,76.8,81.6,86.4,91.2,96,100.8,105.6,110.4,115.2,120,124.8,129.6,134.4,139.2,144,148.8,153.6,158.4,163.2,168],"labels":false,"title":null,"tickSize":{"condition":{"test":"datum.value % 24 == 0","value":-8},"value":-4}}},
"y":{"field":"V","type":"quantitative","scale":{"domain":[250,800],"nice":false,"zero":false},"axis":{"orient":"left","values":[300,400,500,600,700,800],"labelExpr":"datum.value == 300 || datum.value == 500 || datum.value == 700 ? '' + datum.value : ''","tickSize":-5,"labelPadding":9,"title":"Vp (km/s)","titlePadding":10}}
}},
{"data":{"values":[{}]},"mark":{"type":"rule","strokeOpacity":0},
"encoding":{"x":{"datum":0,"type":"quantitative","axis":{"orient":"top","values":[0,4.8,9.6,14.4,19.2,24,28.8,33.6,38.4,43.2,48,52.8,57.6,62.4,67.2,72,76.8,81.6,86.4,91.2,96,100.8,105.6,110.4,115.2,120,124.8,129.6,134.4,139.2,144,148.8,153.6,158.4,163.2,168],"labels":false,"title":null,"tickSize":{"condition":{"test":"datum.value % 24 == 0","value":-8},"value":-4}}},"x2":{"datum":168},
"y":{"datum":300,"type":"quantitative","axis":{"orient":"right","values":[300,400,500,600,700,800],"labels":false,"title":null,"tickSize":-5}}}}
],
"resolve":{"axis":{"x":"independent","y":"independent"}}
},
{"width":834,"height":108,
"layer":[
{"data":{"name":"main"},"transform":[{"filter":"isDefined(datum.N)"}],
"mark":{"type":"line","strokeWidth":1,"clip":true,"color":"#000000"},
"encoding":{
"x":{"field":"h","type":"quantitative","scale":{"domain":[0,168],"nice":false,"zero":false},"axis":{"orient":"bottom","values":[0,4.8,9.6,14.4,19.2,24,28.8,33.6,38.4,43.2,48,52.8,57.6,62.4,67.2,72,76.8,81.6,86.4,91.2,96,100.8,105.6,110.4,115.2,120,124.8,129.6,134.4,139.2,144,148.8,153.6,158.4,163.2,168],"labels":false,"title":null,"tickSize":{"condition":{"test":"datum.value % 24 == 0","value":-8},"value":-4}}},
"y":{"field":"N","type":"quantitative","scale":{"domain":[0,25],"nice":false,"zero":false},"axis":{"orient":"left","values":[0,5,10,15,20,25],"labelExpr":"datum.value % 10 == 0 ? '' + datum.value : ''","tickSize":-5,"labelPadding":9,"title":"Np (cm⁻³)","titlePadding":15}}
}},
{"data":{"values":[{}]},"mark":{"type":"rule","strokeOpacity":0},
"encoding":{"x":{"datum":0,"type":"quantitative","axis":{"orient":"top","values":[0,4.8,9.6,14.4,19.2,24,28.8,33.6,38.4,43.2,48,52.8,57.6,62.4,67.2,72,76.8,81.6,86.4,91.2,96,100.8,105.6,110.4,115.2,120,124.8,129.6,134.4,139.2,144,148.8,153.6,158.4,163.2,168],"labels":false,"title":null,"tickSize":{"condition":{"test":"datum.value % 24 == 0","value":-8},"value":-4}}},"x2":{"datum":168},
"y":{"datum":0,"type":"quantitative","axis":{"orient":"right","values":[0,5,10,15,20,25],"labels":false,"title":null,"tickSize":-5}}}}
],
"resolve":{"axis":{"x":"independent","y":"independent"}}
},
{"width":834,"height":108,
"layer":[
{"data":{"name":"main"},"transform":[{"filter":"isDefined(datum.T)"}],
"mark":{"type":"line","strokeWidth":1,"clip":true,"color":"#000000"},
"encoding":{
"x":{"field":"h","type":"quantitative","scale":{"domain":[0,168],"nice":false,"zero":false},"axis":{"orient":"bottom","values":[0,4.8,9.6,14.4,19.2,24,28.8,33.6,38.4,43.2,48,52.8,57.6,62.4,67.2,72,76.8,81.6,86.4,91.2,96,100.8,105.6,110.4,115.2,120,124.8,129.6,134.4,139.2,144,148.8,153.6,158.4,163.2,168],"labels":false,"title":null,"tickSize":{"condition":{"test":"datum.value % 24 == 0","value":-8},"value":-4}}},
"y":{"field":"T","type":"quantitative","scale":{"type":"log","domain":[0.01,10],"nice":false},"axis":{"orient":"left","values":[0.01,0.02,0.03,0.04,0.05,0.06,0.07,0.08,0.09,0.1,0.2,0.3,0.4,0.5,0.6,0.7,0.8,0.9,1,2,3,4,5,6,7,8,9,10],"labelExpr":"indexof([0.01,0.1,1,10], datum.value) >= 0 ? '' + datum.value : ''","tickSize":{"condition":{"test":"indexof([0.01,0.1,1,10], datum.value) >= 0","value":-6},"value":-3},"labelPadding":10,"title":"Tp (MK)","titlePadding":10}}
}},
{"data":{"values":[{}]},"mark":{"type":"rule","strokeOpacity":0},
"encoding":{"x":{"datum":0,"type":"quantitative","axis":{"orient":"top","values":[0,4.8,9.6,14.4,19.2,24,28.8,33.6,38.4,43.2,48,52.8,57.6,62.4,67.2,72,76.8,81.6,86.4,91.2,96,100.8,105.6,110.4,115.2,120,124.8,129.6,134.4,139.2,144,148.8,153.6,158.4,163.2,168],"labels":false,"title":null,"tickSize":{"condition":{"test":"datum.value % 24 == 0","value":-8},"value":-4}}},"x2":{"datum":168},
"y":{"datum":1,"type":"quantitative","axis":{"orient":"right","values":[0.01,0.02,0.03,0.04,0.05,0.06,0.07,0.08,0.09,0.1,0.2,0.3,0.4,0.5,0.6,0.7,0.8,0.9,1,2,3,4,5,6,7,8,9,10],"labels":false,"title":null,"tickSize":{"condition":{"test":"indexof([0.01,0.1,1,10], datum.value) >= 0","value":-6},"value":-3}}}}}
],
"resolve":{"axis":{"x":"independent","y":"independent"}}
},
{"width":834,"height":108,
"layer":[
{"data":{"name":"main"},"transform":[{"filter":"isDefined(datum.b)"}],
"mark":{"type":"line","strokeWidth":1,"clip":true,"color":"#000000"},
"encoding":{
"x":{"field":"h","type":"quantitative","scale":{"domain":[0,168],"nice":false,"zero":false},"axis":{"orient":"bottom","values":[0,4.8,9.6,14.4,19.2,24,28.8,33.6,38.4,43.2,48,52.8,57.6,62.4,67.2,72,76.8,81.6,86.4,91.2,96,100.8,105.6,110.4,115.2,120,124.8,129.6,134.4,139.2,144,148.8,153.6,158.4,163.2,168],"labelExpr":"datum.value % 24 == 0 ? '08/0' + (datum.value / 24 + 1) : ''","labelPadding":12,"labelFlush":false,"labelOverlap":false,"labelBound":false,"title":null,"tickSize":{"condition":{"test":"datum.value % 24 == 0","value":-8},"value":-4}}},
"y":{"field":"b","type":"quantitative","scale":{"type":"log","domain":[0.01,100],"nice":false},"axis":{"orient":"left","values":[0.01,0.02,0.03,0.04,0.05,0.06,0.07,0.08,0.09,0.1,0.2,0.3,0.4,0.5,0.6,0.7,0.8,0.9,1,2,3,4,5,6,7,8,9,10,20,30,40,50,60,70,80,90,100],"labelExpr":"indexof([0.01,0.1,1,10,100], datum.value) >= 0 ? '' + datum.value : ''","tickSize":{"condition":{"test":"indexof([0.01,0.1,1,10,100], datum.value) >= 0","value":-6},"value":-3},"labelPadding":10,"title":"βp","titlePadding":9}}
}},
{"data":{"values":[{}]},"mark":{"type":"rule","strokeDash":[8,5],"color":"#555","strokeWidth":1.1},
"encoding":{"x":{"datum":0,"type":"quantitative","axis":{"orient":"top","values":[0,4.8,9.6,14.4,19.2,24,28.8,33.6,38.4,43.2,48,52.8,57.6,62.4,67.2,72,76.8,81.6,86.4,91.2,96,100.8,105.6,110.4,115.2,120,124.8,129.6,134.4,139.2,144,148.8,153.6,158.4,163.2,168],"labels":false,"title":null,"tickSize":{"condition":{"test":"datum.value % 24 == 0","value":-8},"value":-4}}},"x2":{"datum":168},
"y":{"datum":1,"type":"quantitative","axis":{"orient":"right","values":[0.01,0.02,0.03,0.04,0.05,0.06,0.07,0.08,0.09,0.1,0.2,0.3,0.4,0.5,0.6,0.7,0.8,0.9,1,2,3,4,5,6,7,8,9,10,20,30,40,50,60,70,80,90,100],"labels":false,"title":null,"tickSize":{"condition":{"test":"indexof([0.01,0.1,1,10,100], datum.value) >= 0","value":-6},"value":-3}}}}}
],
"resolve":{"axis":{"x":"independent","y":"independent"}}
}
],
"config":{
"font":"Liberation Sans",
"view":{"stroke":"#777777","strokeWidth":1},
"axis":{"labelFont":"Liberation Sans","titleFont":"Liberation Sans","labelFontSize":16,"titleFontSize":15,"titleFontWeight":"normal","labelColor":"#000000","titleColor":"#000000","tickColor":"#444444","tickWidth":1,"domain":false,"grid":false},
"legend":{"labelFont":"Liberation Sans","labelColor":"#000000"}
}
}
